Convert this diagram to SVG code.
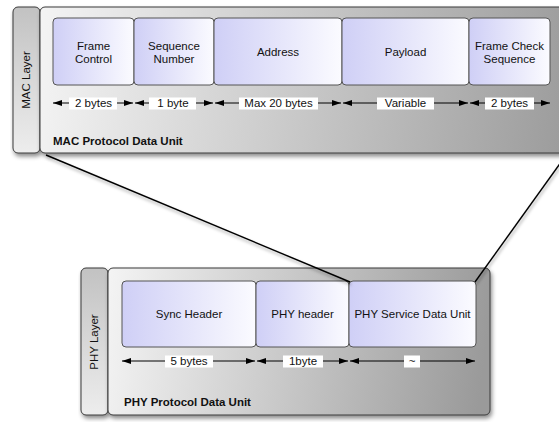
<svg xmlns="http://www.w3.org/2000/svg" width="559" height="422" viewBox="0 0 559 422">
<defs>
<linearGradient id="macBody" gradientUnits="userSpaceOnUse" x1="40" y1="0" x2="575" y2="60">
<stop offset="0" stop-color="#f4f4f4"/><stop offset="1" stop-color="#9c9c9c"/>
</linearGradient>
<linearGradient id="phyBody" gradientUnits="userSpaceOnUse" x1="108" y1="268" x2="490" y2="320">
<stop offset="0" stop-color="#f4f4f4"/><stop offset="1" stop-color="#9a9a9a"/>
</linearGradient>
<linearGradient id="tab" x1="0" y1="0" x2="0" y2="1">
<stop offset="0" stop-color="#c2c2c2"/><stop offset="1" stop-color="#ededed"/>
</linearGradient>
<linearGradient id="field" x1="0" y1="0" x2="1" y2="0">
<stop offset="0" stop-color="#cfcff6"/><stop offset="1" stop-color="#fbfbff"/>
</linearGradient>
<filter id="shadow" x="-10%" y="-10%" width="130%" height="140%">
<feDropShadow dx="1.5" dy="3" stdDeviation="2" flood-color="#000" flood-opacity="0.45"/>
</filter>
<filter id="lshadow" x="-10%" y="-10%" width="130%" height="130%">
<feDropShadow dx="1" dy="2.5" stdDeviation="1.5" flood-color="#000" flood-opacity="0.35"/>
</filter>
<marker id="ah" viewBox="0 0 9 6" refX="9" refY="3" markerWidth="9" markerHeight="6" markerUnits="userSpaceOnUse" orient="auto-start-reverse">
<path d="M0,0 L9,3 L0,6 z" fill="#000"/>
</marker>
<style>
.frame{stroke:#3a3a3a;stroke-width:1}
.fld{fill:url(#field);stroke:#555;stroke-width:1}
.t{font-family:"Liberation Sans",Arial,sans-serif;font-size:11.5px;fill:#111;text-anchor:middle}
.b{font-family:"Liberation Sans",Arial,sans-serif;font-size:11.5px;font-weight:bold;fill:#111}
.dim{stroke:#000;stroke-width:1;marker-start:url(#ah);marker-end:url(#ah)}
.lbl{fill:#fff}
.conn{stroke:#000;stroke-width:1.4;fill:none}
</style>
</defs>

<g id="mac-layer">
<rect x="13" y="7" width="27" height="146" rx="5" fill="url(#tab)" class="frame" filter="url(#shadow)"/>
<text class="t" transform="translate(30,80) rotate(-90)">MAC Layer</text>
</g>
<g id="mac-pdu">
<rect x="40" y="7" width="540" height="146" rx="5" fill="url(#macBody)" class="frame" filter="url(#shadow)"/>
<text class="b" x="53" y="144.5">MAC Protocol Data Unit</text>
</g>
<g id="frame-control">
<rect x="53" y="18" width="81" height="67" rx="4" class="fld"/>
<text class="t" x="93.5" y="50">Frame</text><text class="t" x="93.5" y="63">Control</text>
</g>
<g id="sequence-number">
<rect x="134" y="18" width="80" height="67" rx="4" class="fld"/>
<text class="t" x="174" y="50">Sequence</text><text class="t" x="174" y="63">Number</text>
</g>
<g id="address">
<rect x="214" y="18" width="128" height="67" rx="4" class="fld"/>
<text class="t" x="278" y="56">Address</text>
</g>
<g id="payload">
<rect x="342" y="18" width="127" height="67" rx="4" class="fld"/>
<text class="t" x="405.5" y="56">Payload</text>
</g>
<g id="fcs">
<rect x="469" y="18" width="81" height="67" rx="4" class="fld"/>
<text class="t" x="509.5" y="50">Frame Check</text><text class="t" x="509.5" y="63">Sequence</text>
</g>

<g id="mac-dimensions">
<line class="dim" x1="53" y1="103" x2="133" y2="103"/>
<rect class="lbl" x="69" y="97.5" width="48" height="12"/><text class="t" x="93.5" y="107.2">2 bytes</text>
<line class="dim" x1="135" y1="103" x2="213" y2="103"/>
<rect class="lbl" x="149" y="97.5" width="47" height="12"/><text class="t" x="173" y="107.2">1 byte</text>
<line class="dim" x1="215" y1="103" x2="341" y2="103"/>
<rect class="lbl" x="239" y="97.5" width="79" height="12"/><text class="t" x="278.5" y="107.2">Max 20 bytes</text>
<line class="dim" x1="343" y1="103" x2="468" y2="103"/>
<rect class="lbl" x="377" y="97.5" width="57" height="12"/><text class="t" x="405.5" y="107.2">Variable</text>
<line class="dim" x1="470" y1="103" x2="550" y2="103"/>
<rect class="lbl" x="485" y="97.5" width="49" height="12"/><text class="t" x="509.5" y="107.2">2 bytes</text>
</g>

<g id="phy-layer">
<rect x="81" y="268" width="27" height="147" rx="5" fill="url(#tab)" class="frame" filter="url(#shadow)"/>
<text class="t" transform="translate(98,342) rotate(-90)">PHY Layer</text>
</g>
<g id="phy-pdu">
<rect x="108" y="268" width="382" height="147" rx="5" fill="url(#phyBody)" class="frame" filter="url(#shadow)"/>
<text class="b" x="124" y="406">PHY Protocol Data Unit</text>
</g>
<g id="sync-header">
<rect x="122" y="281" width="134" height="66" rx="4" class="fld"/>
<text class="t" x="189" y="318">Sync Header</text>
</g>
<g id="phy-header">
<rect x="256" y="281" width="93" height="66" rx="4" class="fld"/>
<text class="t" x="302.5" y="318">PHY header</text>
</g>
<g id="phy-sdu">
<rect x="349" y="281" width="127" height="66" rx="4" class="fld"/>
<text class="t" x="412.5" y="318">PHY Service Data Unit</text>
</g>

<g id="phy-dimensions">
<line class="dim" x1="122" y1="361" x2="255" y2="361"/>
<rect class="lbl" x="165" y="355.5" width="48" height="12"/><text class="t" x="189" y="365.2">5 bytes</text>
<line class="dim" x1="257" y1="361" x2="348" y2="361"/>
<rect class="lbl" x="283" y="355.5" width="40" height="12"/><text class="t" x="303" y="365.2">1byte</text>
<line class="dim" x1="350" y1="361" x2="475" y2="361"/>
<rect class="lbl" x="404" y="355.5" width="16" height="12"/><text class="t" x="412" y="365.2">~</text>
</g>

<g id="connectors" filter="url(#lshadow)">
<line class="conn" x1="46" y1="155" x2="350" y2="282"/>
<line class="conn" x1="567.6" y1="153" x2="475" y2="282"/>
</g>
</svg>
